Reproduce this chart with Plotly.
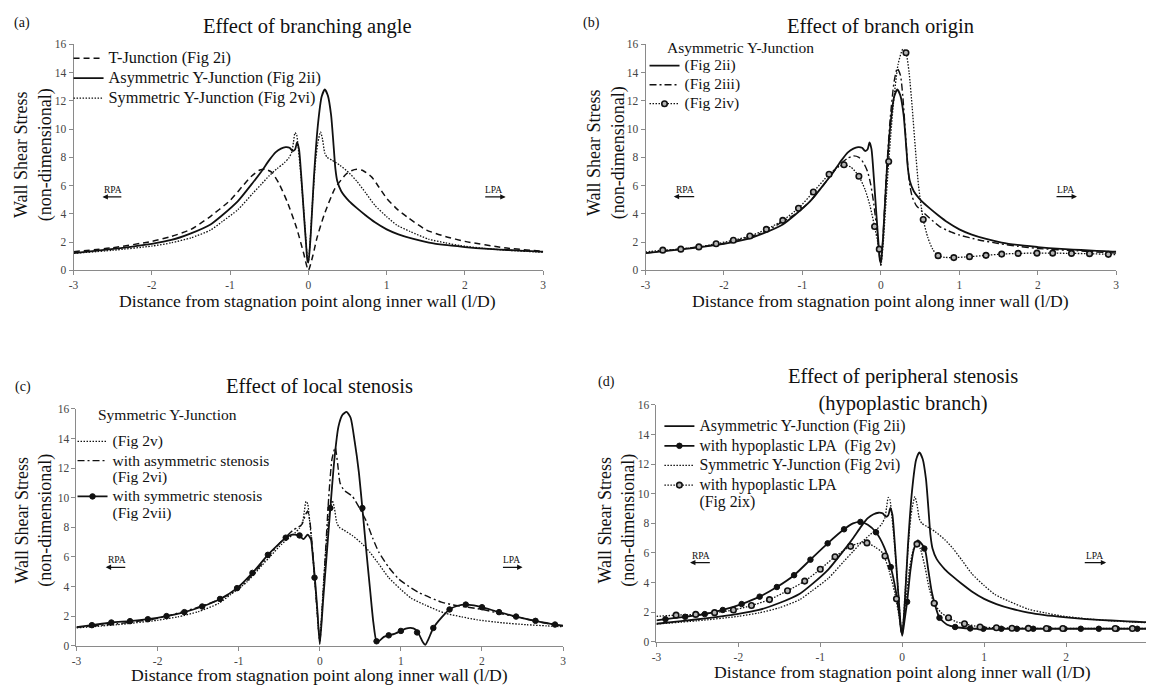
import plotly.graph_objects as go

W, H = 1149, 693
FONT = "Liberation Serif"
INK = "#111111"

# ---------------- data ----------------
TICK_VALS = [-3, -2, -1, 0, 1, 2, 3]
TICK_TEXT = ["-3", "-2", "-1", "0", "1", "2", "3"]
Y_TICKS = [0, 2, 4, 6, 8, 10, 12, 14, 16]

# Asymmetric Y-Junction (Fig 2ii) - panels a, b, d
ASYM_X = [-3.0, -2.7, -2.4, -2.0, -1.75, -1.5, -1.25, -1.1, -0.9, -0.71, -0.6, -0.5, -0.42, -0.35, -0.29,
          -0.24, -0.2, -0.17, -0.145, -0.12, -0.09, -0.06, -0.03, -0.012, 0.0, 0.03, 0.07, 0.12, 0.17,
          0.21, 0.25, 0.29, 0.32, 0.345, 0.37, 0.42, 0.52, 0.62, 0.73, 0.85, 1.0, 1.15, 1.33, 1.54,
          1.74, 2.0, 2.14, 2.35, 2.55, 2.75, 2.95, 3.0]
ASYM_Y = [1.22, 1.4, 1.58, 1.88, 2.15, 2.62, 3.25, 3.9, 4.9, 6.2, 7.0, 7.8, 8.35, 8.62, 8.72,
          8.68, 8.45, 8.55, 9.05, 8.6, 6.6, 4.2, 1.9, 0.7, 0.55, 2.5, 6.5, 10.2, 12.3,
          12.8, 12.35, 11.0, 9.0, 7.2, 6.3, 5.6, 4.9, 4.4, 3.9, 3.4, 2.9, 2.55, 2.24, 1.97,
          1.8, 1.65, 1.58, 1.5, 1.44, 1.38, 1.33, 1.32]

# Symmetric Y-Junction (Fig 2vi / Fig 2v) - panels a, c, d
SYM_X = [-3.0, -2.5, -2.0, -1.75, -1.5, -1.25, -1.1, -0.9, -0.71, -0.6, -0.5, -0.4, -0.31, -0.25, -0.21,
         -0.19, -0.17, -0.15, -0.13, -0.1, -0.07, -0.04, -0.015, 0.0, 0.02, 0.05, 0.09, 0.12, 0.155,
         0.18, 0.21, 0.24, 0.3, 0.4, 0.52, 0.62, 0.73, 0.85, 1.0, 1.13, 1.3, 1.54, 1.75, 1.94, 2.25,
         2.55, 2.8, 3.0]
SYM_Y = [1.2, 1.42, 1.72, 1.95, 2.3, 2.85, 3.45, 4.3, 5.45, 6.1, 6.7, 7.2, 7.6, 7.95, 8.4,
         9.1, 9.75, 9.6, 8.7, 7.0, 5.0, 2.8, 1.0, 0.6, 1.9, 4.6, 7.6, 9.0, 9.8,
         9.3, 8.3, 8.0, 7.8, 7.45, 6.9, 6.3, 5.5, 4.6, 3.8, 3.2, 2.75, 2.2, 1.95, 1.75, 1.55,
         1.42, 1.34, 1.28]

# T-Junction (Fig 2i) - panel a
TJ_X = [-3.0, -2.5, -2.0, -1.75, -1.5, -1.28, -1.0, -0.85, -0.72, -0.62, -0.55, -0.47, -0.38, -0.27,
        -0.15, -0.06, 0.0, 0.06, 0.11, 0.2, 0.34, 0.48, 0.55, 0.62, 0.7, 0.81, 0.9, 1.0, 1.14, 1.28,
        1.51, 1.75, 2.0, 2.5, 3.0]
TJ_Y = [1.32, 1.6, 2.05, 2.4, 2.9, 3.7, 4.95, 5.9, 6.7, 7.1, 7.15, 6.95, 6.2, 4.85,
        3.0, 1.2, 0.0, 1.1, 2.3, 3.9, 5.8, 6.8, 7.05, 7.15, 7.05, 6.6, 5.9, 5.1, 4.3, 3.7,
        2.85, 2.4, 2.05, 1.6, 1.35]

# Fig 2iii - panel b
B3_X = [-3.0, -2.5, -2.0, -1.5, -1.1, -0.9, -0.71, -0.6, -0.5, -0.42, -0.35, -0.28, -0.22, -0.17,
        -0.13, -0.09, -0.05, -0.02, 0.0, 0.03, 0.07, 0.12, 0.17, 0.21, 0.25, 0.28, 0.31, 0.34, 0.37,
        0.4, 0.45, 0.52, 0.62, 0.75, 0.9, 1.0, 1.25, 1.5, 1.75, 2.0, 2.5, 3.0]
B3_Y = [1.22, 1.55, 1.9, 2.7, 3.95, 4.9, 6.2, 7.0, 7.6, 7.95, 8.1, 8.0, 7.6, 7.0,
        6.1, 4.7, 2.8, 1.1, 0.4, 2.6, 6.8, 10.8, 13.4, 14.3, 13.8, 12.3, 10.0, 7.6, 6.0,
        5.2, 4.6, 4.2, 3.7, 3.1, 2.7, 2.5, 2.15, 1.9, 1.7, 1.55, 1.38, 1.22]

# Fig 2iv - panel b (curve and its circle markers)
B4_X = [-3.0, -2.78, -2.55, -2.32, -2.1, -1.88, -1.67, -1.46, -1.25, -1.05, -0.86, -0.66, -0.55, -0.47,
        -0.38, -0.28, -0.2, -0.14, -0.08, -0.04, -0.01, 0.0, 0.03, 0.06, 0.1, 0.16, 0.22, 0.28, 0.32,
        0.36, 0.4, 0.44, 0.48, 0.54, 0.6, 0.66, 0.73, 0.82, 0.93, 1.13, 1.34, 1.54, 1.75, 1.99, 2.19,
        2.43, 2.66, 2.9, 3.0]
B4_Y = [1.3, 1.43, 1.5, 1.66, 1.88, 2.13, 2.43, 2.9, 3.54, 4.4, 5.55, 6.8, 7.3, 7.47,
        7.3, 6.66, 5.7, 4.6, 3.1, 2.0, 1.0, 0.3, 1.9, 4.4, 7.7, 11.8, 14.6, 15.65, 15.4,
        14.0, 11.5, 8.6, 6.0, 3.6, 2.3, 1.5, 1.04, 0.92, 0.9, 0.97, 1.06, 1.15, 1.2, 1.22, 1.22,
        1.2, 1.18, 1.13, 1.12]
B4_MX = [-2.78, -2.55, -2.32, -2.1, -1.88, -1.67, -1.46, -1.25, -1.05, -0.86, -0.66, -0.47, -0.28, -0.08,
         -0.02, 0.1, 0.32, 0.54, 0.73, 0.93, 1.13, 1.34, 1.54, 1.75, 1.99, 2.19, 2.43, 2.66, 2.9]
B4_MY = [1.43, 1.5, 1.66, 1.88, 2.13, 2.43, 2.9, 3.54, 4.4, 5.55, 6.8, 7.47, 6.66, 3.1,
         1.5, 7.7, 15.4, 3.6, 1.04, 0.9, 0.97, 1.06, 1.15, 1.2, 1.22, 1.22, 1.2, 1.18, 1.13]

# Fig 2vi with asymmetric stenosis - panel c
C6_X = [-3.0, -2.5, -2.0, -1.5, -1.25, -1.0, -0.83, -0.64, -0.5, -0.4, -0.33, -0.27, -0.22, -0.18, -0.15,
        -0.12, -0.09, -0.06, -0.03, 0.0, 0.03, 0.07, 0.11, 0.15, 0.19, 0.22, 0.25, 0.3, 0.4, 0.5, 0.57,
        0.65, 0.73, 0.85, 0.975, 1.1, 1.22, 1.36, 1.5, 1.65, 1.83, 2.0, 2.24, 2.45, 2.66, 2.9, 3.0]
C6_Y = [1.25, 1.48, 1.85, 2.6, 3.1, 3.85, 4.8, 6.0, 6.9, 7.45, 7.8, 8.0, 8.2, 8.8, 9.1,
        8.3, 6.5, 4.4, 2.2, 0.3, 2.5, 6.3, 10.0, 12.6, 13.4, 12.3, 11.0, 10.5, 10.1, 9.2, 8.45,
        7.3, 6.3, 5.3, 4.5, 4.0, 3.6, 3.25, 2.95, 2.75, 2.6, 2.45, 2.16, 1.92, 1.66, 1.42, 1.35]

# Fig 2vii with symmetric stenosis - panel c
C7_X = [-3.0, -2.81, -2.57, -2.34, -2.12, -1.89, -1.67, -1.45, -1.23, -1.02, -0.83, -0.64, -0.5, -0.42,
        -0.34, -0.26, -0.2, -0.15, -0.11, -0.085, -0.06, -0.03, 0.0, 0.04, 0.08, 0.13, 0.18, 0.23, 0.28,
        0.33, 0.38, 0.43, 0.48, 0.525, 0.57, 0.62, 0.66, 0.7, 0.74, 0.79, 0.85, 0.92, 1.0, 1.06, 1.12,
        1.18, 1.23, 1.27, 1.3, 1.34, 1.4, 1.5, 1.6, 1.7, 1.8, 1.9, 2.0, 2.21, 2.42, 2.66, 2.9, 3.0]
C7_Y = [1.25, 1.39, 1.57, 1.66, 1.79, 2.0, 2.27, 2.65, 3.16, 3.89, 4.92, 6.14, 6.9, 7.3,
        7.5, 7.45, 7.2, 7.5, 7.2, 6.0, 4.5, 2.4, 0.1, 3.0, 5.8, 9.3, 12.6, 14.8, 15.6,
        15.8, 15.4, 13.8, 11.8, 9.3, 6.6, 3.8, 1.6, 0.3, 0.35, 0.6, 0.7, 0.8, 1.0, 1.15, 1.2,
        1.1, 0.7, 0.25, 0.05, 0.45, 1.2, 1.9, 2.45, 2.7, 2.78, 2.72, 2.6, 2.27, 1.97, 1.68, 1.43, 1.35]
C7_MX = [-2.81, -2.57, -2.34, -2.12, -1.89, -1.67, -1.45, -1.23, -1.02, -0.83, -0.64, -0.42, -0.25, -0.065,
         0.13, 0.525, 0.7, 0.85, 1.0, 1.2, 1.4, 1.6, 1.8, 2.0, 2.21, 2.42, 2.66, 2.9]
C7_MY = [1.39, 1.57, 1.66, 1.79, 2.0, 2.27, 2.65, 3.16, 3.89, 4.92, 6.14, 7.3, 7.45, 4.6,
         9.3, 9.3, 0.3, 0.7, 1.0, 0.9, 1.2, 2.45, 2.78, 2.6, 2.27, 1.97, 1.68, 1.43]

# with hypoplastic LPA (Fig 2v) - panel d
D5_X = [-3.0, -2.89, -2.65, -2.41, -2.19, -1.96, -1.74, -1.53, -1.32, -1.12, -0.91, -0.71, -0.6, -0.51,
        -0.42, -0.32, -0.22, -0.14, -0.08, -0.04, 0.0, 0.03, 0.06, 0.1, 0.14, 0.19, 0.24, 0.28, 0.32,
        0.36, 0.395, 0.455, 0.55, 0.646, 0.83, 1.0, 1.4, 1.79, 2.18, 2.62, 3.0]
D5_Y = [1.45, 1.53, 1.69, 1.87, 2.15, 2.55, 3.05, 3.7, 4.5, 5.55, 6.65, 7.6, 8.0, 8.1,
        7.9, 7.4, 6.4, 5.05, 3.5, 2.0, 0.4, 1.5, 2.7, 4.8, 6.2, 6.85, 6.6, 6.2, 4.8,
        3.4, 2.6, 1.62, 1.15, 1.0, 0.9, 0.88, 0.88, 0.88, 0.88, 0.88, 0.88]
D5_MX = [-2.89, -2.65, -2.41, -2.19, -1.96, -1.74, -1.53, -1.32, -1.12, -0.91, -0.71, -0.51, -0.32, -0.14,
         0.06, 0.27, 0.395, 0.455, 0.646, 0.83, 0.99, 1.21, 1.4, 1.6, 1.79, 1.98, 2.18, 2.4, 2.62, 2.87]
D5_MY = [1.53, 1.69, 1.87, 2.15, 2.55, 3.05, 3.7, 4.5, 5.55, 6.65, 7.6, 8.1, 7.4, 5.05,
         2.7, 6.3, 2.6, 1.62, 1.0, 0.9, 0.88, 0.88, 0.88, 0.88, 0.88, 0.88, 0.88, 0.88, 0.88, 0.88]

# with hypoplastic LPA (Fig 2ix) - panel d
D9_X = [-3.0, -2.76, -2.52, -2.29, -2.06, -1.84, -1.62, -1.4, -1.19, -1.0, -0.82, -0.63, -0.5, -0.43,
        -0.33, -0.24, -0.16, -0.09, -0.04, 0.0, 0.04, 0.09, 0.14, 0.18, 0.22, 0.28, 0.33, 0.39, 0.47,
        0.565, 0.66, 0.76, 0.95, 1.15, 1.4, 1.8, 2.2, 2.6, 3.0]
D9_Y = [1.72, 1.8, 1.85, 1.97, 2.15, 2.45, 2.85, 3.45, 4.1, 4.9, 5.75, 6.45, 6.7, 6.68,
        6.4, 6.0, 4.8, 3.3, 1.8, 0.5, 2.5, 5.0, 6.3, 6.6, 6.3, 5.0, 3.6, 2.6, 2.0,
        1.62, 1.35, 1.22, 1.0, 0.95, 0.92, 0.9, 0.9, 0.9, 0.9]
D9_MX = [-2.76, -2.52, -2.29, -2.06, -1.84, -1.62, -1.4, -1.19, -1.0, -0.82, -0.63, -0.43, -0.21, -0.07,
         0.18, 0.39, 0.565, 0.76, 0.95, 1.15, 1.34, 1.54, 1.76, 1.96, 2.6, 2.81]
D9_MY = [1.8, 1.85, 1.97, 2.15, 2.45, 2.85, 3.45, 4.1, 4.9, 5.75, 6.45, 6.68, 5.8, 2.9,
         6.6, 2.6, 1.62, 1.22, 1.0, 0.95, 0.92, 0.91, 0.9, 0.9, 0.9, 0.9]

# legend texts
LEG_A = ["T-Junction (Fig 2i)", "Asymmetric Y-Junction (Fig 2ii)", "Symmetric Y-Junction (Fig 2vi)"]
LEG_B_TITLE = "Asymmetric Y-Junction"
LEG_B = ["(Fig 2ii)", "(Fig 2iii)", "(Fig 2iv)"]
LEG_C_TITLE = "Symmetric Y-Junction"
LEG_C = [["(Fig 2v)"], ["with asymmetric stenosis", "(Fig 2vi)"], ["with symmetric stenosis", "(Fig 2vii)"]]
LEG_D = [["Asymmetric Y-Junction (Fig 2ii)"], ["with hypoplastic LPA\u00a0 (Fig 2v)"],
         ["Symmetric Y-Junction (Fig 2vi)"], ["with hypoplastic LPA", "(Fig 2ix)"]]

TITLES = ["Effect of branching angle", "Effect of branch origin", "Effect of local stenosis",
          "Effect of peripheral stenosis<br>(hypoplastic branch)"]
LETTERS = ["(a)", "(b)", "(c)", "(d)"]
XLABEL = "Distance from stagnation point along inner wall (l/D)"
YLABEL = "Wall Shear Stress<br>(non-dimensional)"

# ---------------- styles ----------------
SOLID = dict(color=INK, width=1.8)
DOT = dict(color=INK, width=1.3, dash="1.5px,1.5px")
DASH = dict(color=INK, width=1.5, dash="6px,4px")
DASHDOT = dict(color=INK, width=1.4, dash="7px,3px,2px,3px")
OPEN_M = dict(symbol="circle", size=5.5, color="#b5b5b5", line=dict(color=INK, width=1.6))
FILL_M = dict(symbol="circle", size=5.5, color=INK, line=dict(color=INK, width=1))


def name_of(parts, size=15.5):
    if isinstance(parts, str):
        parts = [parts]
    return "<br>".join(f'<span style="font-size:{size}px">{p}</span>' for p in parts)


fig = go.Figure()


def curve(xs, ys, ax, line, name=None, legend=None):
    fig.add_trace(go.Scatter(x=xs, y=ys, mode="lines", line=dict(shape="spline", smoothing=0.6, **line),
                             xaxis="x" + ax, yaxis="y" + ax, name=name or "",
                             showlegend=name is not None, legend=legend, hoverinfo="skip"))


def markers(xs, ys, ax, marker):
    fig.add_trace(go.Scatter(x=xs, y=ys, mode="markers", marker=marker, xaxis="x" + ax, yaxis="y" + ax,
                             showlegend=False, hoverinfo="skip"))


def legend_key(ax, line, marker, name, legend):
    fig.add_trace(go.Scatter(x=[None], y=[None], mode="lines+markers", line=line, marker=marker,
                             xaxis="x" + ax, yaxis="y" + ax, name=name, legend=legend, showlegend=True))


# panel a
curve(TJ_X, TJ_Y, "", DASH, name_of(LEG_A[0], 16.3), "legend")
curve(ASYM_X, ASYM_Y, "", SOLID, name_of(LEG_A[1], 16.3), "legend")
curve(SYM_X, SYM_Y, "", DOT, name_of(LEG_A[2], 16.3), "legend")

# panel b
curve(ASYM_X, ASYM_Y, "2", SOLID, name_of(LEG_B[0]), "legend2")
curve(B3_X, B3_Y, "2", DASHDOT, name_of(LEG_B[1]), "legend2")
curve(B4_X, B4_Y, "2", DOT)
markers(B4_MX, B4_MY, "2", OPEN_M)
legend_key("2", DOT, OPEN_M, name_of(LEG_B[2]), "legend2")

# panel c
curve(SYM_X, SYM_Y, "3", DOT, name_of(LEG_C[0]), "legend3")
curve(C6_X, C6_Y, "3", DASHDOT, name_of(LEG_C[1]), "legend3")
curve(C7_X, C7_Y, "3", SOLID)
markers(C7_MX, C7_MY, "3", FILL_M)
legend_key("3", SOLID, FILL_M, name_of(LEG_C[2]), "legend3")

# panel d
curve(ASYM_X, ASYM_Y, "4", SOLID, name_of(LEG_D[0], 15.8), "legend4")
curve(D5_X, D5_Y, "4", SOLID)
markers(D5_MX, D5_MY, "4", FILL_M)
legend_key("4", SOLID, FILL_M, name_of(LEG_D[1], 15.8), "legend4")
curve(SYM_X, SYM_Y, "4", DOT, name_of(LEG_D[2], 15.8), "legend4")
curve(D9_X, D9_Y, "4", DOT)
markers(D9_MX, D9_MY, "4", OPEN_M)
legend_key("4", DOT, OPEN_M, name_of(LEG_D[3], 15.8), "legend4")


def px(v):
    return v / W


def py(v):
    return 1 - v / H


AXC = "#8a8a8a"
tickfont = dict(family=FONT, size=11.5, color="#444")
xstyle = dict(tickvals=TICK_VALS, ticktext=TICK_TEXT, showline=True, linecolor=AXC, linewidth=1,
              ticks="outside", ticklen=4, tickcolor=AXC, showgrid=False, zeroline=False, tickfont=tickfont,
              fixedrange=True)
ystyle = dict(tickvals=Y_TICKS, range=[0, 16], showline=True, linecolor=AXC, linewidth=1,
              ticks="outside", ticklen=4, tickcolor=AXC, showgrid=False, zeroline=False, tickfont=tickfont,
              fixedrange=True)

# panel frames (pixels): left, right, bottom(y=0), top(y=16), x-range max
PANELS = [
    (69, 542, 269, 39, 3.0),
    (645, 1119, 269, 39, 3.0),
    (72, 562, 651, 410, 3.0),
    (656, 1149, 647, 406, 2.976),
]

layout = dict(width=W, height=H, autosize=False, margin=dict(l=0, r=0, t=0, b=0),
              paper_bgcolor="white", plot_bgcolor="white", font=dict(family=FONT, color=INK))
for i, (l, r, b, t, xmax) in enumerate(PANELS):
    sfx = "" if i == 0 else str(i + 1)
    layout["xaxis" + sfx] = dict(domain=[px(l), px(r)], range=[-3, xmax], anchor="y" + sfx, **xstyle)
    layout["yaxis" + sfx] = dict(domain=[py(b), py(t)], anchor="x" + sfx, **ystyle)

legend_common = dict(xanchor="left", yanchor="top", bgcolor="rgba(0,0,0,0)", borderwidth=0,
                     tracegroupgap=0, itemclick=False, itemdoubleclick=False)
layout["legend"] = dict(x=px(64), y=py(38), font=dict(family=FONT, size=13, color=INK), **legend_common)
layout["legend2"] = dict(x=px(644), y=py(46), font=dict(family=FONT, size=12, color=INK), **legend_common)
layout["legend3"] = dict(x=px(68), y=py(428), font=dict(family=FONT, size=12.6, color=INK), valign="top",
                         **legend_common)
layout["legend4"] = dict(x=px(659), y=py(412.5), font=dict(family=FONT, size=12.8, color=INK), valign="top",
                         **legend_common)

ann = []


def text(x, y, s, size, xanchor="center", angle=0, **kw):
    ann.append(dict(x=x, y=y, xref=kw.pop("xref", "paper"), yref=kw.pop("yref", "paper"), text=s,
                    showarrow=False, xanchor=xanchor, yanchor="middle", textangle=angle,
                    font=dict(family=FONT, size=size, color=INK), **kw))


TITLE_POS = [(305, 21), (882, 21), (317, 387), (904, 391)]
LETTER_POS = [(17, 17), (591, 17), (18, 388), (606, 383)]
XLAB_POS = [(305, 300), (882, 300), (317, 681), (904, 678)]
YLAB_POS = [(29, 151), (606, 149), (29, 523), (616, 523)]
for i in range(4):
    text(px(TITLE_POS[i][0]), py(TITLE_POS[i][1]), TITLES[i], 20.5)
    text(px(LETTER_POS[i][0]), py(LETTER_POS[i][1]), LETTERS[i], 14)
    text(px(XLAB_POS[i][0]), py(XLAB_POS[i][1]), XLABEL, 17.7)
    text(px(YLAB_POS[i][0]), py(YLAB_POS[i][1]), YLABEL, 18, angle=-90)

text(px(665), py(42), name_of(LEG_B_TITLE), 15.5, xanchor="left")
text(px(92), py(416), name_of(LEG_C_TITLE), 15.5, xanchor="left")

# RPA / LPA direction marks (data coordinates of each panel)
DIR_MARKS = [
    ("", (-2.49, 5.72, 5.2, -2.37, -2.63), (2.36, 5.72, 5.2, 2.24, 2.52)),
    ("2", (-2.5, 5.72, 5.22, -2.36, -2.64), (2.35, 5.72, 5.22, 2.22, 2.5)),
    ("3", (-2.5, 5.8, 5.3, -2.38, -2.64), (2.37, 5.8, 5.3, 2.24, 2.5)),
    ("4", (-2.46, 5.8, 5.35, -2.33, -2.59), (2.35, 5.8, 5.35, 2.21, 2.49)),
]
for sfx, rpa, lpa in DIR_MARKS:
    for lab, (tx, ty, ay, x0, x1) in (("RPA", rpa), ("LPA", lpa)):
        text(tx, ty, lab, 9.5, xref="x" + sfx, yref="y" + sfx)
        ann.append(dict(x=x1, y=ay, ax=x0, ay=ay, xref="x" + sfx, yref="y" + sfx, axref="x" + sfx,
                        ayref="y" + sfx, text="", showarrow=True, arrowhead=2, arrowsize=0.9,
                        arrowwidth=1.2, arrowcolor=INK))

layout["annotations"] = ann
fig.update_layout(**layout)
fig.write_html("out.html", config={"displayModeBar": False, "staticPlot": True},
               post_script="document.body.style.margin='0';document.body.style.padding='0';"
                           "document.documentElement.style.overflow='hidden';")
